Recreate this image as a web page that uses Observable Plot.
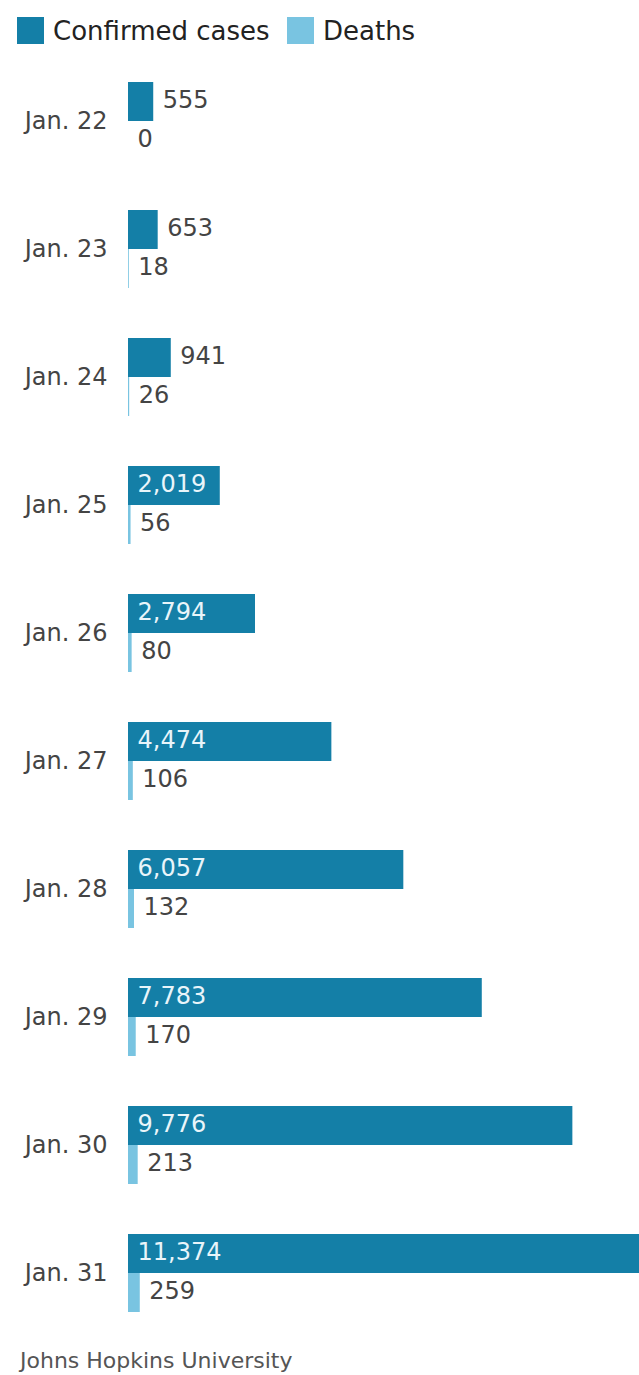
<!DOCTYPE html>
<html>
<head>
<meta charset="utf-8">
<script src="https://cdn.jsdelivr.net/npm/d3@7"></script>
<script src="https://cdn.jsdelivr.net/npm/@observablehq/plot@0.6"></script>
<style>
  body { margin: 0; background: #fff; font-family: "DejaVu Sans", sans-serif; width: 639px; overflow: hidden; }
  .legend { height: 60px; position: relative; }
  .legend .item { position: absolute; top: 17px; height: 27px; display: flex; align-items: center; font-size: 26px; color: #222; }
  .legend .sw { width: 27px; height: 27px; margin-right: 9px; }
  .caption { font-size: 22px; color: #555; padding-left: 20px; margin-top: 8px; line-height: 26px; }
</style>
</head>
<body>
<div class="legend" id="legend"></div>
<div id="chart"></div>
<div class="caption">Johns Hopkins University</div>
<script>
const dates = ["Jan. 22", "Jan. 23", "Jan. 24", "Jan. 25", "Jan. 26", "Jan. 27", "Jan. 28", "Jan. 29", "Jan. 30", "Jan. 31"];
const confirmed = [555, 653, 941, 2019, 2794, 4474, 6057, 7783, 9776, 11374];
const deaths = [0, 18, 26, 56, 80, 106, 132, 170, 213, 259];
const seriesNames = ["Confirmed cases", "Deaths"];
const seriesColors = ["#147fa7", "#79c4e1"];

const data = [];
dates.forEach((d, i) => {
  data.push({date: d, series: seriesNames[0], value: confirmed[i]});
  data.push({date: d, series: seriesNames[1], value: deaths[i]});
});
const insideThreshold = 2000;
const isInside = d => d.series === seriesNames[0] && d.value >= insideThreshold;

// legend
const legend = document.getElementById("legend");
const lefts = [17, 287];
seriesNames.forEach((s, i) => {
  const it = document.createElement("div");
  it.className = "item";
  it.style.left = lefts[i] + "px";
  it.innerHTML = `<div class="sw" style="background:${seriesColors[i]}"></div><span>${s}</span>`;
  legend.appendChild(it);
});

const fmt = d3.format(",");
const chart = Plot.plot({
  width: 639,
  height: 1280,
  marginLeft: 128,
  marginRight: 0,
  marginTop: 22,
  marginBottom: 28,
  style: {fontFamily: "DejaVu Sans, sans-serif", fontSize: "24px", color: "#444", background: "#fff", overflow: "hidden"},
  facet: {data, y: "date", marginLeft: 128},
  fy: {domain: dates, paddingInner: 0.390625, paddingOuter: 0, align: 0, label: null, tickSize: 0, tickPadding: 21, axis: "left", fontSize: 25},
  y: {domain: seriesNames, padding: 0, axis: null},
  x: {domain: [0, 11374], range: [128, 645], axis: null},
  color: {domain: seriesNames, range: seriesColors},
  marks: [
    Plot.barX(data, {x: "value", y: "series", fill: "series"}),
    Plot.text(data, {filter: isInside, x: 0, y: "series", text: d => fmt(d.value), dx: 9, dy: -2, textAnchor: "start", fill: "#e9f5fa"}),
    Plot.text(data, {filter: d => !isInside(d), x: "value", y: "series", text: d => fmt(d.value), dx: 9, dy: -2, textAnchor: "start", fill: "#444"})
  ]
});
document.getElementById("chart").appendChild(chart);
</script>
</body>
</html>
